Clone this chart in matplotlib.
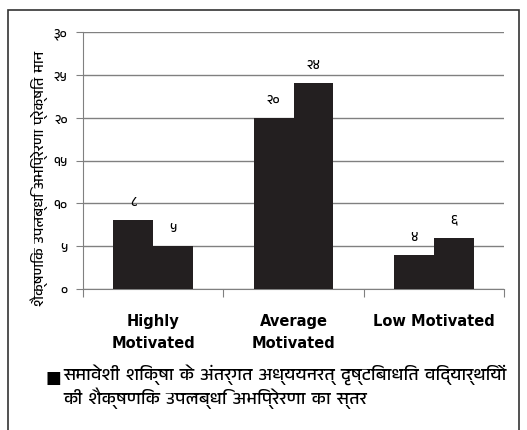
import matplotlib
matplotlib.use('Agg')
import matplotlib.pyplot as plt
import numpy as np
from matplotlib import font_manager
from matplotlib.ft2font import FT2Font
from matplotlib.patches import Rectangle

# look for installed fonts that have Devanagari glyphs, prefer non-mono ones
cands = []
for f in font_manager.fontManager.ttflist:
    try:
        if ord('क') in FT2Font(f.fname).get_charmap():
            cands.append(f)
    except Exception:
        pass
cands.sort(key=lambda f: ('mono' in f.name.lower(), 'devanagari' not in f.name.lower()))
deva_family = cands[0].name if cands else None
families = ['DejaVu Sans'] + ([deva_family] if deva_family else [])
plt.rcParams['font.family'] = families

categories = ['Highly\nMotivated', 'Average\nMotivated', 'Low Motivated']
series1 = [8, 20, 4]
series2 = [5, 24, 6]
labels1 = ['८', '२०', '४']
labels2 = ['५', '२४', '६']
yticks = [0, 5, 10, 15, 20, 25, 30]
ytick_labels = ['०', '५', '१०', '१५', '२०', '२५', '३०']
ylabel = 'शैक्षणिक उपलब्धि अभिप्रेरणा प्रेक्षित मान'
legend_text = 'समावेशी शिक्षा के अंतर्गत अध्ययनरत् दृष्टिबाधित विद्यार्थियों\nकी शैक्षणिक उपलब्धि अभिप्रेरणा का स्तर'

W, H = 527, 431
fig = plt.figure(figsize=(W / 100, H / 100), dpi=100)
ax = fig.add_axes([83 / W, 1 - 290 / H, (504 - 83) / W, (290 - 33) / H])

# outer frame
fig.patches.append(Rectangle((8 / W, -0.05), (519 - 8) / W, 1.05 - 11 / H,
                             transform=fig.transFigure, fill=False,
                             edgecolor='#333333', lw=1.2))

x = np.arange(len(categories))
w = 0.283
b1 = ax.bar(x - w / 2, series1, w, color='#231f20', zorder=3)
b2 = ax.bar(x + w / 2, series2, w, color='#231f20', zorder=3)

for bars, labs in [(b1, labels1), (b2, labels2)]:
    for r, t in zip(bars, labs):
        ax.text(r.get_x() + r.get_width() / 2, r.get_height() + 1.4, t,
                ha='center', va='bottom', fontsize=9.5, fontweight='bold')

ax.set_xlim(-0.5, 2.5)
ax.set_ylim(0, 30)
ax.set_yticks(yticks)
ax.set_yticklabels(ytick_labels, fontsize=9.5, fontweight='bold')
ax.yaxis.grid(True, color='#808080', lw=1, zorder=0)
ax.set_xticks([-0.5, 0.5, 1.5, 2.5])
ax.set_xticklabels([])
ax.tick_params(axis='x', length=6, color='#808080')
ax.tick_params(axis='y', length=5, color='#808080', pad=6)
for sp in ['top', 'right']:
    ax.spines[sp].set_visible(False)
ax.spines['left'].set_color('#808080')
ax.spines['bottom'].set_color('#808080')

for i, c in enumerate(categories):
    ax.text(i, -2.8, c, ha='center', va='top', fontsize=10.5,
            fontweight='bold', linespacing=1.55)

fig.text(39 / W, 1 - 178 / H, ylabel, rotation=90, ha='center', va='center',
         fontsize=10.5)

# legend
fig.text(53 / W, 1 - 378 / H, '■', ha='center', va='center', fontsize=12)
fig.text(63 / W, 1 - 387 / H, legend_text, ha='left', va='center',
         fontsize=12.8, fontweight='bold', linespacing=1.15)

fig.savefig('out.png', dpi=100)
